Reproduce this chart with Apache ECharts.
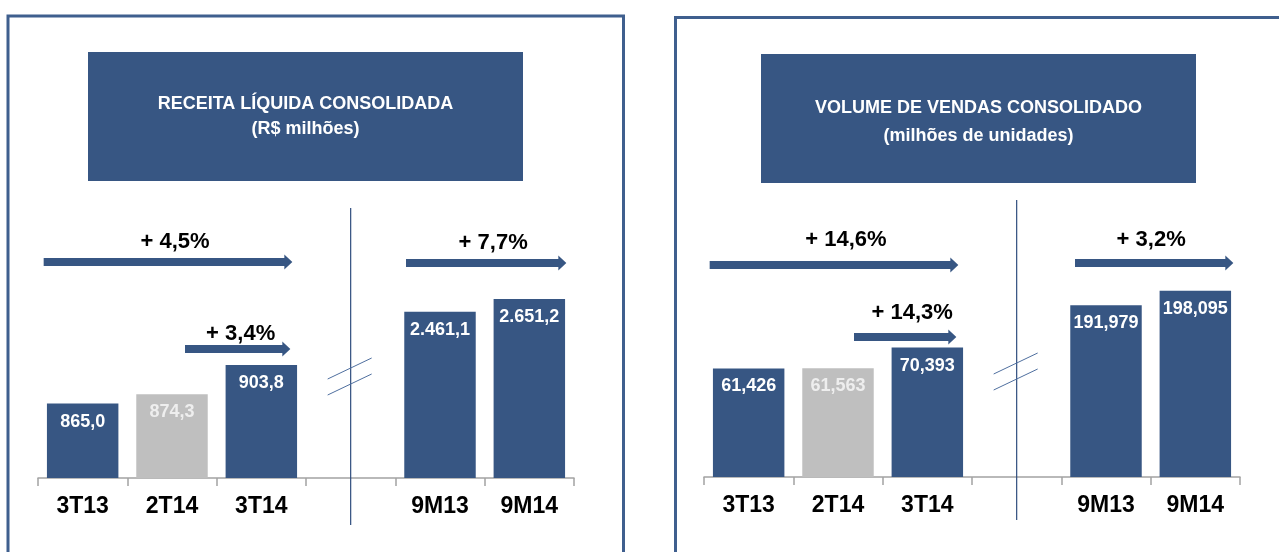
<!DOCTYPE html>
<html>
<head>
<meta charset="utf-8">
<script src="https://cdn.jsdelivr.net/npm/echarts@6/dist/echarts.min.js"></script>
<style>
html, body { margin: 0; padding: 0; background: #fff; }
#main { width: 1279px; height: 552px; }
</style>
</head>
<body>
<div id="main"></div>
<script>
// categories
var quarterCats = ['3T13', '2T14', '3T14'];
var nineCats = ['9M13', '9M14'];

// receita liquida (R$ milhoes)
var revenueQuarter = [865.0, 874.3, 903.8];
var revenueNine = [2461.1, 2651.2];
var revenueGrowth = ['+ 4,5%', '+ 3,4%', '+ 7,7%'];
var revenueTitle = ['RECEITA LÍQUIDA CONSOLIDADA', '(R$ milhões)'];

// volume de vendas (milhoes de unidades)
var volumeQuarter = [61.426, 61.563, 70.393];
var volumeNine = [191.979, 198.095];
var volumeGrowth = ['+ 14,6%', '+ 14,3%', '+ 3,2%'];
var volumeTitle = ['VOLUME DE VENDAS CONSOLIDADO', '(milhões de unidades)'];

var BLUE = '#375683';
var GREY = '#bfbfbf';
var FONT = '"Liberation Sans", Arial, sans-serif';

var cats = quarterCats.concat([''], nineCats);

function fmtBR(v, dec) {
	var parts = v.toFixed(dec).split('.');
	parts[0] = parts[0].replace(/\B(?=(\d{3})+(?!\d))/g, '.');
	return parts.join(',');
}

// put values into the 6 slots of the category axis
function slotItems(values, offset, greyIndex) {
	var out = [null, null, null, null, null, null];
	values.forEach(function (v, i) {
		var item = { value: v };
		if (i === greyIndex) {
			item.itemStyle = { color: GREY };
			item.label = { color: '#eeeeee' };
		}
		out[offset + i] = item;
	});
	return out;
}

var panels = [{
	grid: { left: 38, right: 705, top: 230, bottom: 74 },
	qRange: [790, 1040],
	nRange: [0, 3674],
	quarter: revenueQuarter, nine: revenueNine, dec: 1,
	growth: revenueGrowth, title: revenueTitle,
	frame: { x: 8, y: 16, width: 615.5, height: 600 },
	box: { x: 88, y: 52, width: 435, height: 129 },
	titleY: [104, 129],
	divider: [208, 525],
	breakY: 379,
	arrows: [
		{ from: '3T13', dx0: -39, to: '3T14', dx1: 31, y: 262, ly: 242, lx: 7 },
		{ from: '2T14', dx0: 13, to: '3T14', dx1: 29, y: 349, ly: 334, lx: 3 },
		{ from: '9M13', dx0: -34, to: '9M14', dx1: 37, y: 263, ly: 243, lx: 7 }
	]
}, {
	grid: { left: 704, right: 39, top: 230, bottom: 75 },
	qRange: [15, 120.7],
	nRange: [120, 223.5],
	quarter: volumeQuarter, nine: volumeNine, dec: 3,
	growth: volumeGrowth, title: volumeTitle,
	frame: { x: 675.5, y: 17.5, width: 700, height: 600 },
	box: { x: 761, y: 54, width: 435, height: 129 },
	titleY: [108, 136],
	divider: [200, 520],
	breakY: 374,
	arrows: [
		{ from: '3T13', dx0: -39, to: '3T14', dx1: 31, y: 265, ly: 240, lx: 12 },
		{ from: '2T14', dx0: 16, to: '3T14', dx1: 29, y: 337, ly: 313, lx: 7 },
		{ from: '9M13', dx0: -31, to: '9M14', dx1: 38, y: 263, ly: 240, lx: -3 }
	]
}];

var option = {
	backgroundColor: '#ffffff',
	animation: false,
	grid: [], xAxis: [], yAxis: [], series: []
};

panels.forEach(function (p, i) {
	option.grid.push(p.grid);
	option.xAxis.push({
		type: 'category', gridIndex: i, data: cats,
		axisLine: { onZero: false, lineStyle: { color: '#a3a3a3', width: 1.5 } },
		axisTick: { show: true, length: 8, interval: 0, lineStyle: { color: '#a3a3a3', width: 1.5 } },
		axisLabel: { interval: 0, margin: 17, fontSize: 23, fontWeight: 'bold', color: '#000', fontFamily: FONT }
	});
	option.yAxis.push({ type: 'value', gridIndex: i, min: p.qRange[0], max: p.qRange[1], show: false });
	option.yAxis.push({ type: 'value', gridIndex: i, min: p.nRange[0], max: p.nRange[1], show: false });

	var barLabel = {
		show: true, position: 'insideTop', distance: 9,
		color: '#fff', fontSize: 18, fontWeight: 'bold', fontFamily: FONT,
		formatter: function (d) { return d.value == null ? '' : fmtBR(d.value, p.dec); }
	};
	option.series.push({
		type: 'bar', xAxisIndex: i, yAxisIndex: i * 2,
		data: slotItems(p.quarter, 0, 1),
		itemStyle: { color: BLUE },
		barCategoryGap: '20%', barGap: '-100%',
		label: barLabel
	});
	option.series.push({
		type: 'bar', xAxisIndex: i, yAxisIndex: i * 2 + 1,
		data: slotItems(p.nine, 4, -1),
		itemStyle: { color: BLUE },
		barCategoryGap: '20%', barGap: '-100%',
		label: barLabel
	});
});

var chart = echarts.init(document.getElementById('main'));
chart.setOption(option);

// frames, title boxes, dividers and growth arrows
var graphic = [];
panels.forEach(function (p, i) {
	var px = function (c) { return chart.convertToPixel({ xAxisIndex: i }, c); };
	graphic.push({
		type: 'rect', shape: p.frame, z: 1,
		style: { fill: null, stroke: '#3f5f8e', lineWidth: 3 }
	});
	graphic.push({ type: 'rect', shape: p.box, style: { fill: BLUE } });
	var cx = p.box.x + p.box.width / 2;
	p.title.forEach(function (t, k) {
		graphic.push({
			type: 'text', x: cx, y: p.titleY[k],
			style: { text: t, fill: '#fff', font: 'bold 18px ' + FONT, align: 'center', verticalAlign: 'middle' }
		});
	});
	var mid = px('');
	graphic.push({
		type: 'line', z: 100,
		shape: { x1: mid, y1: p.divider[0], x2: mid, y2: p.divider[1] },
		style: { stroke: '#2f4d7e', lineWidth: 1.2 }
	});
	[0, 16].forEach(function (off) {
		graphic.push({
			type: 'line', z: 100,
			shape: { x1: mid - 23, y1: p.breakY + off, x2: mid + 21, y2: p.breakY + off - 21 },
			style: { stroke: '#4f6f9f', lineWidth: 1 }
		});
	});
	p.arrows.forEach(function (a, k) {
		var x0 = px(a.from) + a.dx0, x1 = px(a.to) + a.dx1, y = a.y;
		graphic.push({
			type: 'polygon', z: 100,
			shape: { points: [[x0, y - 4], [x1 - 8, y - 4], [x1 - 8, y - 7.5], [x1, y], [x1 - 8, y + 7.5], [x1 - 8, y + 4], [x0, y + 4]] },
			style: { fill: BLUE }
		});
		graphic.push({
			type: 'text', z: 100, x: (x0 + x1) / 2 + a.lx, y: a.ly,
			style: { text: p.growth[k], fill: '#000', font: 'bold 22px ' + FONT, align: 'center', verticalAlign: 'middle' }
		});
	});
});
chart.setOption({ graphic: graphic });
</script>
</body>
</html>
